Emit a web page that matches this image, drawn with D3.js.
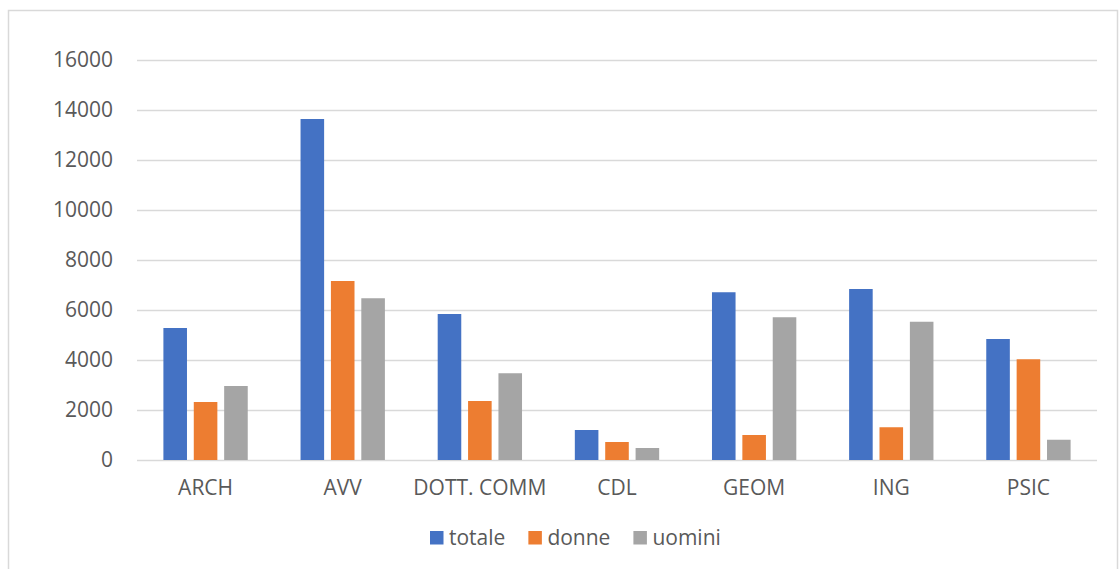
<!DOCTYPE html>
<html>
<head>
<meta charset="utf-8">
<script src="https://cdn.jsdelivr.net/npm/d3@7"></script>
<style>
  html, body { margin: 0; padding: 0; background: #ffffff; }
  svg { display: block; font-family: "Open Sans", "Noto Sans", sans-serif; }
</style>
</head>
<body>
<svg id="chart" width="1119" height="569"></svg>
<script>
// Professions (categories) and series
const categories = ["ARCH", "AVV", "DOTT. COMM", "CDL", "GEOM", "ING", "PSIC"];
const seriesNames = ["totale", "donne", "uomini"];
const totale = [5280, 13640, 5840, 1200, 6710, 6840, 4840];
const donne  = [2320, 7160, 2360, 720, 1000, 1310, 4030];
const uomini = [2960, 6470, 3470, 480, 5710, 5530, 810];
const yTicks = [0, 2000, 4000, 6000, 8000, 10000, 12000, 14000, 16000];
const colors = ["#4472C4", "#ED7D31", "#A5A5A5"];

const seriesValues = [totale, donne, uomini];
const rows = categories.map((c, i) => ({
  cat: c,
  values: seriesNames.map((s, j) => ({ key: s, value: seriesValues[j][i] }))
}));

const svg = d3.select("#chart");
const textColor = "#595959";
const gridColor = "#d9d9d9";
const fontSize = "21px";

// chart frame (bottom edge runs past the visible area)
svg.append("rect")
  .attr("x", 8.5).attr("y", 10.5)
  .attr("width", 1109).attr("height", 580)
  .attr("fill", "#ffffff")
  .attr("stroke", gridColor).attr("stroke-width", 1.5);

const plot = { left: 137, right: 1097, top: 60, bottom: 460 };

const y = d3.scaleLinear().domain([0, 16000]).range([plot.bottom, plot.top]);
const x0 = d3.scaleBand().domain(categories)
  .range([plot.left, plot.right])
  .paddingInner(0.385).paddingOuter(0.1925);
const x1 = d3.scaleBand().domain(seriesNames)
  .range([0, x0.bandwidth()])
  .paddingInner(0.224);

// gridlines + y labels
const yAxis = d3.axisLeft(y).tickValues(yTicks)
  .tickSize(-(plot.right - plot.left)).tickPadding(24)
  .tickFormat(d3.format("d"));
const gy = svg.append("g")
  .attr("transform", `translate(${plot.left},0)`)
  .call(yAxis);
gy.select(".domain").remove();
gy.selectAll(".tick line").attr("stroke", gridColor).attr("stroke-width", 1.5);
gy.selectAll(".tick text")
  .attr("fill", textColor)
  .style("font-size", fontSize)
  .attr("font-family", "'Open Sans', 'Noto Sans', sans-serif");

// bars
const groups = svg.append("g").selectAll("g")
  .data(rows).join("g")
  .attr("transform", d => `translate(${x0(d.cat)},0)`);
groups.selectAll("rect")
  .data(d => d.values).join("rect")
  .attr("x", d => x1(d.key))
  .attr("width", x1.bandwidth())
  .attr("y", d => y(d.value))
  .attr("height", d => y(0) - y(d.value))
  .attr("fill", (d, i) => colors[i]);

// x axis labels
const xAxis = d3.axisBottom(x0).tickSize(0).tickPadding(20);
const gx = svg.append("g")
  .attr("transform", `translate(0,${plot.bottom})`)
  .call(xAxis);
gx.select(".domain").remove();
gx.selectAll(".tick text")
  .attr("fill", textColor)
  .style("font-size", fontSize)
  .attr("font-family", "'Open Sans', 'Noto Sans', sans-serif");

// legend
const legend = svg.append("g").attr("transform", "translate(430,0)");
const items = legend.selectAll("g").data(seriesNames).join("g");
items.append("rect")
  .attr("width", 13.5).attr("height", 13.5)
  .attr("y", 531)
  .attr("fill", (d, i) => colors[i]);
items.append("text")
  .attr("x", 19).attr("y", 545)
  .attr("fill", textColor)
  .style("font-size", fontSize)
  .text(d => d);
let cursor = 0;
const gap = 23;
items.each(function () {
  const w = d3.select(this).select("text").node().getComputedTextLength();
  d3.select(this).attr("transform", `translate(${cursor},0)`);
  cursor += 19 + w + gap;
});
</script>
</body>
</html>
